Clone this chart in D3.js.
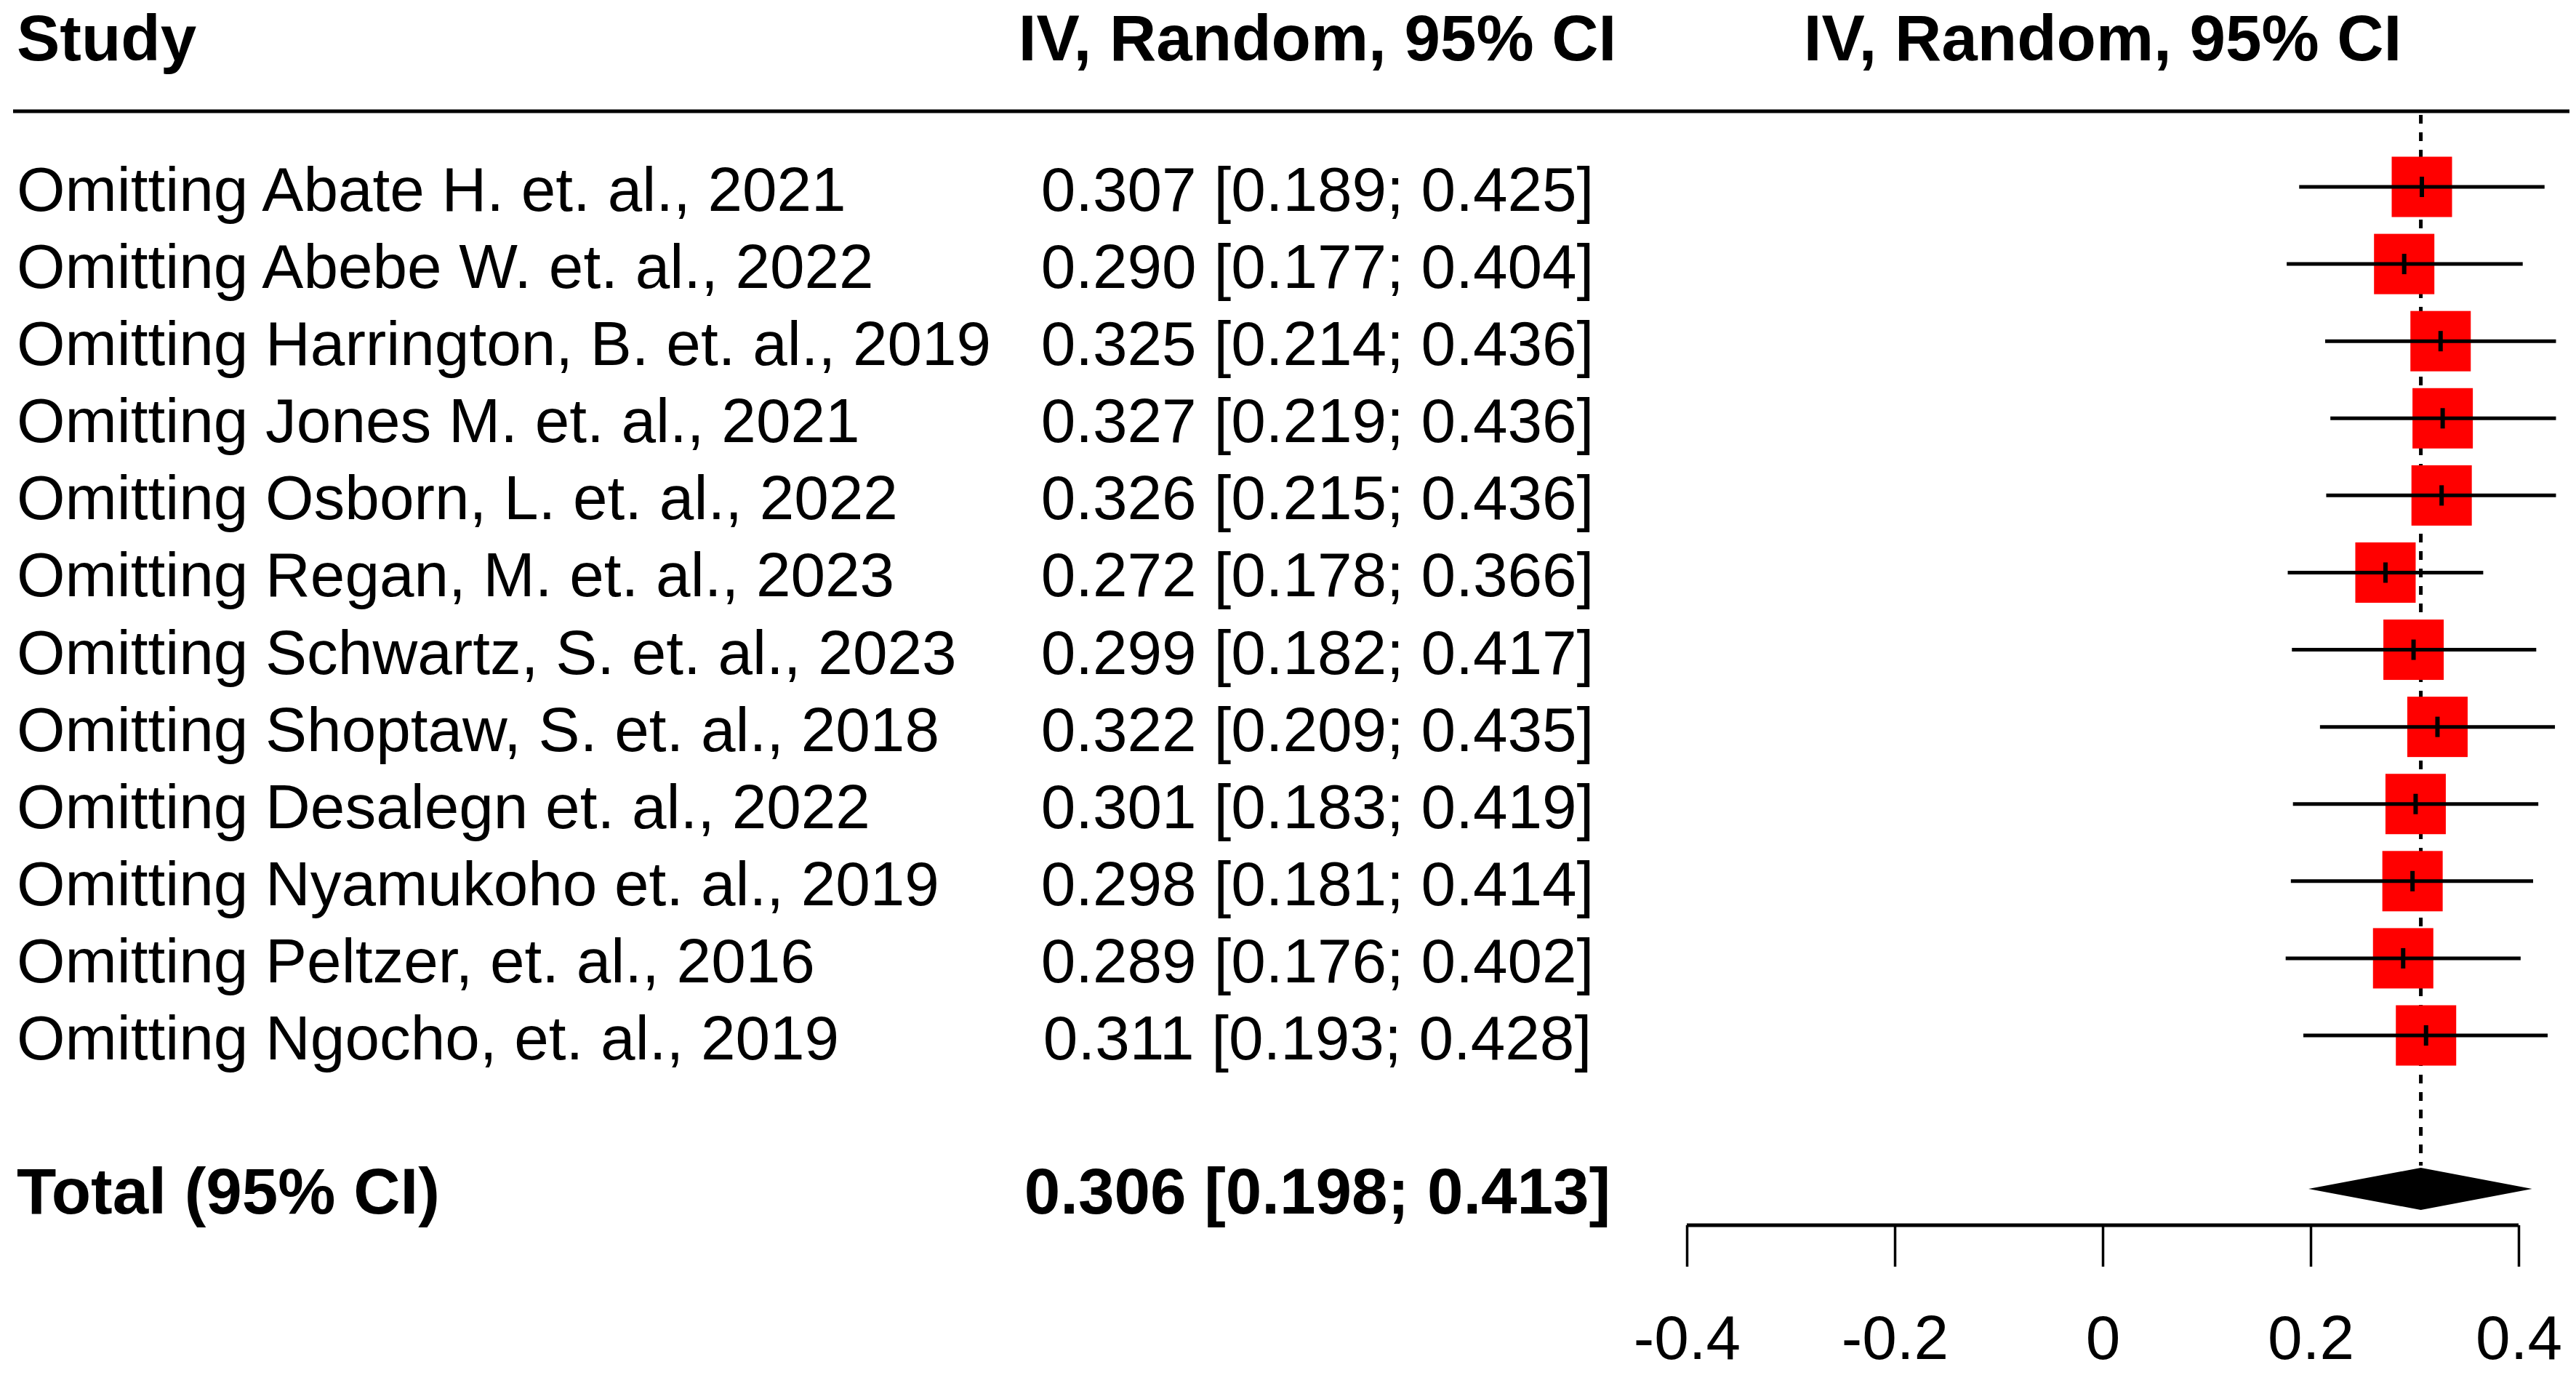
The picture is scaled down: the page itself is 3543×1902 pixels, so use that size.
<!DOCTYPE html>
<html>
<head>
<meta charset="utf-8">
<script src="https://cdn.jsdelivr.net/npm/d3@7"></script>
<style>
  body { margin: 0; background: #fff; }
  text { font-family: "Liberation Sans", Arial, sans-serif; fill: #000; }
</style>
</head>
<body>
<svg id="chart" width="3543" height="1902"></svg>
<script>
// leave-one-out estimates
var studies = [
    "Omitting Abate H. et. al., 2021",
    "Omitting Abebe W. et. al., 2022",
    "Omitting Harrington, B. et. al., 2019",
    "Omitting Jones M. et. al., 2021",
    "Omitting Osborn, L. et. al., 2022",
    "Omitting Regan, M. et. al., 2023",
    "Omitting Schwartz, S. et. al., 2023",
    "Omitting Shoptaw, S. et. al., 2018",
    "Omitting Desalegn et. al., 2022",
    "Omitting Nyamukoho et. al., 2019",
    "Omitting Peltzer, et. al., 2016",
    "Omitting Ngocho, et. al., 2019"
]
var est = [0.307, 0.290, 0.325, 0.327, 0.326, 0.272, 0.299, 0.322, 0.301, 0.298, 0.289, 0.311]
var lower = [0.189, 0.177, 0.214, 0.219, 0.215, 0.178, 0.182, 0.209, 0.183, 0.181, 0.176, 0.193]
var upper = [0.425, 0.404, 0.436, 0.436, 0.436, 0.366, 0.417, 0.435, 0.419, 0.414, 0.402, 0.428]

var total = { label: "Total (95% CI)", est: 0.306, lower: 0.198, upper: 0.413 }
var headers = ["Study", "IV, Random, 95% CI", "IV, Random, 95% CI"]
var ticks = [-0.4, -0.2, 0, 0.2, 0.4]

var fmt = d3.format(".3f")
var fontSize = 85.5
var boldSize = 89

var svg = d3.select("#chart")

var x = d3.scaleLinear().domain([-0.4, 0.4]).range([2320, 3464])
var y = d3.scaleLinear().domain([0, studies.length - 1]).range([257, 1424])
var totalY = 1635
var colMid = 1812

// headers
svg.append("text").attr("x", 23).attr("y", 83)
    .attr("font-size", boldSize).attr("font-weight", "bold").text(headers[0])
svg.append("text").attr("x", colMid).attr("y", 83).attr("text-anchor", "middle")
    .attr("font-size", boldSize).attr("font-weight", "bold").text(headers[1])
svg.append("text").attr("x", x(0)).attr("y", 83).attr("text-anchor", "middle")
    .attr("font-size", boldSize).attr("font-weight", "bold").text(headers[2])

svg.append("line").attr("x1", 18).attr("x2", 3534).attr("y1", 153).attr("y2", 153)
    .attr("stroke", "#000").attr("stroke-width", 5)

// reference line at pooled estimate
svg.append("line").attr("x1", x(total.est)).attr("x2", x(total.est))
    .attr("y1", 158).attr("y2", totalY - 32)
    .attr("stroke", "#000").attr("stroke-width", 5).attr("stroke-dasharray", "12,12")

var rows = svg.selectAll("g.row").data(studies).enter().append("g").attr("class", "row")

rows.append("text").attr("x", 23).attr("y", (d, i) => y(i) + 33)
    .attr("font-size", fontSize).text(d => d)

rows.append("text").attr("x", colMid).attr("y", (d, i) => y(i) + 33)
    .attr("text-anchor", "middle").attr("font-size", fontSize)
    .text((d, i) => fmt(est[i]) + " [" + fmt(lower[i]) + "; " + fmt(upper[i]) + "]")

var box = 83
rows.append("rect")
    .attr("x", (d, i) => x(est[i]) - box / 2).attr("y", (d, i) => y(i) - box / 2)
    .attr("width", box).attr("height", box).attr("fill", "#ff0000")

rows.append("line")
    .attr("x1", (d, i) => x(lower[i])).attr("x2", (d, i) => x(upper[i]))
    .attr("y1", (d, i) => y(i)).attr("y2", (d, i) => y(i))
    .attr("stroke", "#000").attr("stroke-width", 5)

rows.append("line")
    .attr("x1", (d, i) => x(est[i])).attr("x2", (d, i) => x(est[i]))
    .attr("y1", (d, i) => y(i) - 14).attr("y2", (d, i) => y(i) + 14)
    .attr("stroke", "#000").attr("stroke-width", 6)

// total row
svg.append("text").attr("x", 23).attr("y", totalY + 34)
    .attr("font-size", boldSize).attr("font-weight", "bold").text(total.label)
svg.append("text").attr("x", colMid).attr("y", totalY + 34).attr("text-anchor", "middle")
    .attr("font-size", boldSize).attr("font-weight", "bold")
    .text(fmt(total.est) + " [" + fmt(total.lower) + "; " + fmt(total.upper) + "]")

var dh = 29
svg.append("path")
    .attr("d", "M" + x(total.lower) + "," + totalY +
        "L" + x(total.est) + "," + (totalY - dh) +
        "L" + x(total.upper) + "," + totalY +
        "L" + x(total.est) + "," + (totalY + dh) + "Z")
    .attr("fill", "#000")

// axis
var axis = d3.axisBottom(x).tickValues(ticks).tickSize(57).tickPadding(12)
    .tickFormat(d => d === 0 ? "0" : d3.format(".1f")(d).replace("−", "-"))
var ag = svg.append("g").attr("transform", "translate(0,1685)").call(axis)
ag.select(".domain").attr("stroke-width", 5).attr("d", "M" + x(-0.4) + ",0H" + x(0.4))
ag.selectAll(".tick line").attr("stroke-width", 3.5)
ag.selectAll(".tick text").attr("font-size", fontSize)
    .attr("font-family", "Liberation Sans, Arial, sans-serif").attr("dy", "1.35em")
</script>
</body>
</html>
